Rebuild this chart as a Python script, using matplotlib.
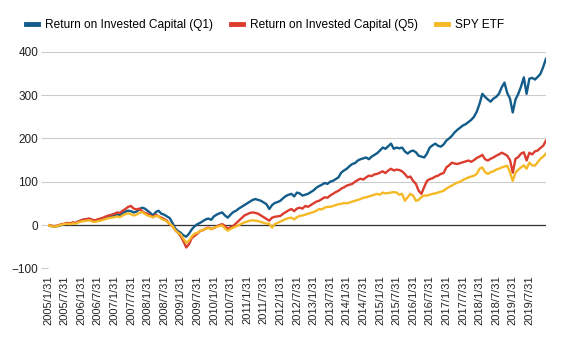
import matplotlib
matplotlib.use("Agg")
import matplotlib.pyplot as plt
import pandas as pd

plt.rcParams['font.family'] = ['Liberation Sans', 'DejaVu Sans']

# monthly dates 2005/1/31 .. 2020/1/31
dates = pd.date_range("2005-01-31", "2020-01-31", freq="ME")
labels = [f"{d.year}/{d.month}/{d.day}" for d in dates]

roic_q1 = [
    0, -2, -4, -3, -2, 1, 2, 4, 3, 5, 4, 8,
    10, 12, 13, 14, 11, 10, 12, 13, 15, 17, 19, 20,
    22, 24, 23, 28, 31, 33, 32, 29, 31, 36, 40, 38,
    33, 28, 22, 30, 33, 26, 24, 20, 16, 5, -8, -14,
    -18, -24, -27, -20, -10, -3, 2, 5, 9, 13, 15, 12,
    20, 24, 27, 29, 22, 17, 24, 30, 33, 38, 42, 46,
    50, 54, 58, 60, 58, 56, 52, 48, 37, 46, 51, 53,
    56, 62, 67, 70, 72, 66, 75, 73, 68, 70, 72, 76,
    80, 86, 90, 93, 97, 95, 100, 102, 106, 110, 121, 126,
    130, 136, 141, 143, 149, 152, 154, 156, 152, 158, 162, 166,
    172, 179, 176, 182, 188, 176, 179, 177, 179, 170, 165, 170,
    172, 168, 160, 158, 156, 165, 179, 184, 188, 183, 181, 186,
    195, 200, 206, 214, 220, 225, 230, 233, 238, 243, 250, 262,
    280, 303, 296, 290, 285, 292, 296, 303, 318, 329, 305, 292,
    260, 290, 303, 320, 341, 303, 338, 340, 336, 342, 349, 365, 384,
]

roic_q5 = [
    0, -1, -3, -2, 0, 2, 3, 5, 4, 6, 5, 8,
    11, 13, 14, 15, 12, 11, 13, 15, 17, 20, 22, 24,
    26, 29, 28, 33, 37, 42, 44, 38, 36, 38, 32, 28,
    26, 22, 18, 24, 20, 17, 14, 10, 2, -2, -12, -18,
    -26, -38, -52, -44, -30, -25, -20, -14, -12, -8, -6, -9,
    -7, -3, 0, 2, -2, -9, -5, -2, 4, 10, 16, 22,
    25, 28, 29, 28, 26, 22, 18, 14, 10, 17, 19, 20,
    21, 26, 30, 34, 37, 32, 38, 40, 38, 44, 42, 46,
    50, 54, 56, 60, 64, 63, 68, 72, 76, 79, 84, 87,
    91, 93, 95, 100, 104, 107, 105, 110, 114, 113, 117, 118,
    121, 124, 120, 126, 130, 126, 128, 127, 124, 118, 110, 112,
    102, 95, 79, 72, 88, 102, 106, 108, 112, 114, 118, 120,
    133, 138, 144, 142, 141, 143, 145, 147, 149, 146, 150, 155,
    158, 162, 152, 149, 153, 156, 160, 163, 167, 164, 160, 150,
    121, 153, 157, 165, 168, 149, 167, 163, 170, 172, 178, 183, 195,
]

spy = [
    0, -2, -4, -3, -1, 1, 2, 3, 2, 4, 3, 6,
    8, 9, 10, 11, 8, 7, 9, 10, 12, 14, 16, 17,
    18, 20, 18, 22, 25, 27, 25, 22, 24, 28, 30, 26,
    22, 20, 18, 21, 20, 14, 12, 8, 3, -2, -12, -18,
    -22, -32, -41, -36, -26, -20, -18, -14, -11, -9, -7, -10,
    -6, -4, -2, -1, -8, -13, -9, -6, -3, 0, 3, 6,
    8, 10, 11, 10, 9, 7, 5, 3, 3, -6, 2, 5,
    8, 11, 14, 16, 17, 13, 18, 21, 22, 24, 26, 28,
    30, 33, 37, 36, 40, 42, 42, 44, 46, 48, 49, 51,
    50, 52, 54, 56, 58, 60, 63, 64, 66, 68, 70, 72,
    70, 75, 73, 74, 75, 76, 75, 70, 72, 56, 64, 72,
    68, 56, 58, 65, 68, 68, 70, 72, 73, 75, 77, 79,
    84, 88, 91, 95, 98, 100, 104, 107, 110, 112, 114, 118,
    130, 133, 122, 118, 122, 124, 128, 130, 133, 135, 137, 122,
    102, 121, 128, 133, 138, 130, 144, 138, 137, 145, 153, 158, 165,
]

series = [
    ("Return on Invested Capital (Q1)", roic_q1, "#125c8a"),
    ("Return on Invested Capital (Q5)", roic_q5, "#db3c2d"),
    ("SPY ETF", spy, "#f5b925"),
]

fig = plt.figure(figsize=(5.64, 3.48), dpi=100)
ax = fig.add_axes([0.085, 0.229, 0.883, 0.622])

x = list(range(len(dates)))
for name, vals, col in series:
    ax.plot(x, vals, color=col, lw=1.7, label=name, solid_joinstyle="round")

ax.set_xlim(0, len(dates) - 1)
ax.set_ylim(-100, 400)
ax.set_yticks([-100, 0, 100, 200, 300, 400])
ax.grid(axis="y", color="#cccccc", lw=0.8)
ax.axhline(0, color="#333333", lw=0.9, zorder=1.5)
ax.set_axisbelow(True)
for s in ax.spines.values():
    s.set_visible(False)

# label every 6 months, last label 2019/7/31
ax.set_xticks(x[:-1:6])
ax.set_xticklabels(labels[:-1:6], rotation=90, fontsize=8, color="#222222")
ax.tick_params(axis="x", length=0, pad=5)
ax.tick_params(axis="y", length=5, color="#cccccc", labelsize=8.5, labelcolor="#222222", pad=2)

fig.legend(loc="upper center", bbox_to_anchor=(0.47, 0.975), ncol=3, frameon=False,
           fontsize=8.6, handlelength=1.0, handletextpad=0.6, columnspacing=1.5)
for h in fig.legends[0].get_lines():
    h.set_linewidth(3.5)

fig.savefig("out.png", dpi=100)
